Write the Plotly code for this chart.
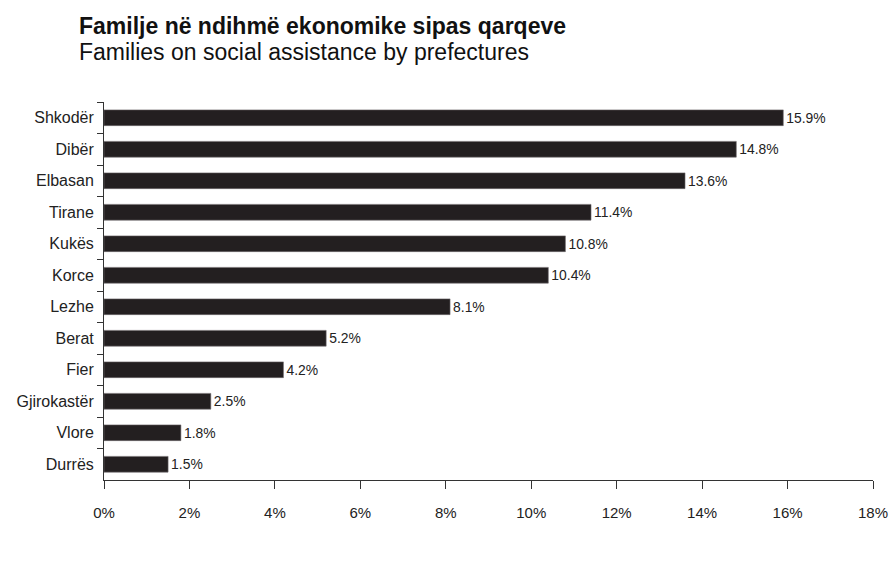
import plotly.graph_objects as go

categories = ["Shkodër", "Dibër", "Elbasan", "Tirane", "Kukës", "Korce", "Lezhe",
              "Berat", "Fier", "Gjirokastër", "Vlore", "Durrës"]
values = [15.9, 14.8, 13.6, 11.4, 10.8, 10.4, 8.1, 5.2, 4.2, 2.5, 1.8, 1.5]
labels = [f"{v:.1f}%" for v in values]
x_ticks = [0, 2, 4, 6, 8, 10, 12, 14, 16, 18]
x_tick_text = [f"{t}%" for t in x_ticks]

font_family = "Liberation Sans, Arial, sans-serif"

fig = go.Figure(go.Bar(
    x=values, y=categories, orientation="h",
    marker=dict(color="#231f20", line=dict(color="#6e6a6b", width=0.6)),
    width=0.5,
    text=labels, textposition="outside", cliponaxis=False,
    textfont=dict(family=font_family, size=15, color="#222222"),
))

fig.update_layout(
    width=892, height=571,
    margin=dict(l=104, r=19, t=102, b=91, autoexpand=False),
    paper_bgcolor="white", plot_bgcolor="white",
    showlegend=False,
    font=dict(family=font_family, size=15, color="#222222"),
    annotations=[
        dict(text="<b>Familje në ndihmë ekonomike sipas qarqeve</b>", xref="paper", yref="paper",
             x=-0.035, y=1.202, xanchor="left", yanchor="middle", showarrow=False,
             font=dict(family=font_family, size=23, color="#111111")),
        dict(text="Families on social assistance by prefectures", xref="paper", yref="paper",
             x=-0.035, y=1.133, xanchor="left", yanchor="middle", showarrow=False,
             font=dict(family=font_family, size=23, color="#111111")),
    ],
)

fig.update_xaxes(
    range=[0, 18], tickvals=x_ticks, ticktext=x_tick_text,
    showgrid=False, zeroline=False, automargin=False,
    showline=True, linecolor="#333333", linewidth=1,
    ticks="outside", ticklen=8, tickcolor="#333333",
    ticklabelstandoff=11,
    tickfont=dict(family=font_family, size=15, color="#222222"),
)
fig.update_yaxes(
    categoryorder="array", categoryarray=categories, autorange="reversed",
    showgrid=False, zeroline=False, automargin=False,
    showline=True, linecolor="#333333", linewidth=1,
    ticks="outside", ticklen=6, tickcolor="#333333", tickson="boundaries",
    ticklabelstandoff=6,
    tickfont=dict(family=font_family, size=16, color="#222222"),
)

fig.write_html("out.html", config={"displayModeBar": False},
               post_script="document.body.style.margin='0';")
